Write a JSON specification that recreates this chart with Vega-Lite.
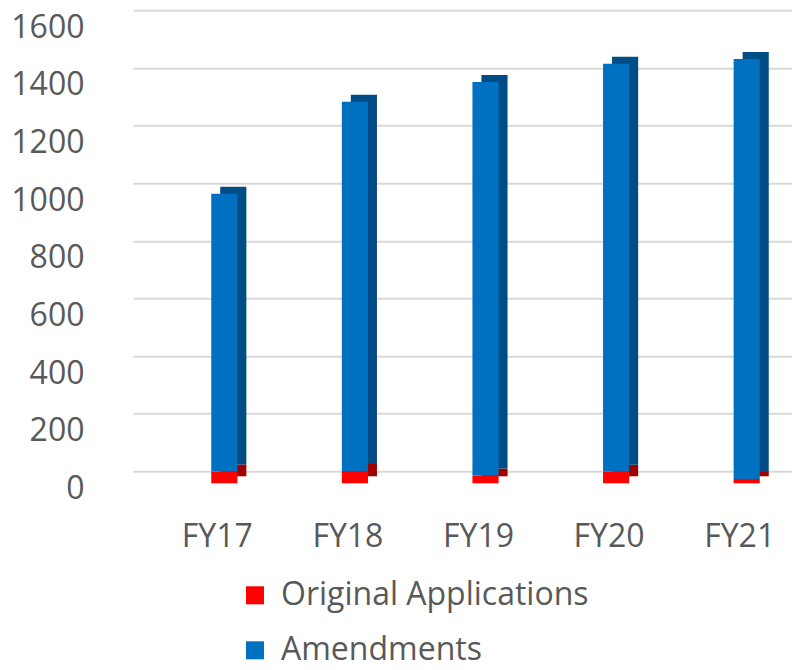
{
  "$schema": "https://vega.github.io/schema/vega-lite/v6.json",
  "width": 659,
  "height": 461,
  "autosize": {"type": "none"},
  "padding": {"left": 133, "top": 22.3, "right": 0, "bottom": 186.7},
  "background": "white",
  "config": {"view": {"stroke": null}, "font": "Open Sans"},
  "data": {
    "values": [
      {"year": "FY17", "series": "Original Applications", "value": 41},
      {"year": "FY17", "series": "Amendments", "value": 964},
      {"year": "FY18", "series": "Original Applications", "value": 43},
      {"year": "FY18", "series": "Amendments", "value": 1281},
      {"year": "FY19", "series": "Original Applications", "value": 27},
      {"year": "FY19", "series": "Amendments", "value": 1366},
      {"year": "FY20", "series": "Original Applications", "value": 40},
      {"year": "FY20", "series": "Amendments", "value": 1416},
      {"year": "FY21", "series": "Original Applications", "value": 15},
      {"year": "FY21", "series": "Amendments", "value": 1458}
    ]
  },
  "layer": [
    {
      "mark": {"type": "rule", "opacity": 0},
      "encoding": {
        "y": {
          "field": "value",
          "type": "quantitative",
          "scale": {"domain": [0, 1600], "range": [449, -12], "nice": false},
          "axis": {
            "orient": "right",
            "grid": true,
            "gridColor": "#D9D9D9",
            "gridWidth": 2,
            "labels": false,
            "ticks": false,
            "domain": false,
            "title": null,
            "values": [0, 200, 400, 600, 800, 1000, 1200, 1400, 1600]
          }
        }
      }
    },
    {
      "layer": [
        {
          "mark": {"type": "bar", "xOffset": 9, "yOffset": -7},
          "encoding": {
            "x": {
              "field": "year",
              "type": "nominal",
              "scale": {"range": [26, 679], "paddingInner": 0.8, "paddingOuter": 0.4},
              "axis": {
                "title": null,
                "domain": false,
                "ticks": false,
                "labelAngle": 0,
                "labelFontSize": 32,
                "labelColor": "#595959",
                "labelPadding": 38,
                "labelOffset": -7
              }
            },
            "y": {
              "field": "value",
              "type": "quantitative",
              "stack": "zero",
              "scale": {"domain": [0, 1600], "nice": false},
              "axis": {
                "title": null,
                "grid": false,
                "domain": false,
                "ticks": false,
                "tickSize": 0,
                "format": "d",
                "labelFontSize": 32,
                "labelColor": "#595959",
                "labelPadding": 49,
                "labelOffset": 5,
                "values": [0, 200, 400, 600, 800, 1000, 1200, 1400, 1600]
              }
            },
            "color": {
              "field": "series",
              "type": "nominal",
              "scale": {"domain": ["Original Applications", "Amendments"], "range": ["#A00000", "#004C85"]},
              "legend": null
            },
            "order": {"field": "series", "sort": "descending"}
          }
        },
        {
          "mark": {"type": "bar"},
          "encoding": {
            "x": {
              "field": "year",
              "type": "nominal",
              "scale": {"range": [26, 679], "paddingInner": 0.8, "paddingOuter": 0.4},
              "axis": {
                "title": null,
                "domain": false,
                "ticks": false,
                "labelAngle": 0,
                "labelFontSize": 32,
                "labelColor": "#595959",
                "labelPadding": 38,
                "labelOffset": -7
              }
            },
            "y": {
              "field": "value",
              "type": "quantitative",
              "stack": "zero",
              "scale": {"domain": [0, 1600], "nice": false},
              "axis": {
                "title": null,
                "grid": false,
                "domain": false,
                "ticks": false,
                "tickSize": 0,
                "format": "d",
                "labelFontSize": 32,
                "labelColor": "#595959",
                "labelPadding": 49,
                "labelOffset": 5,
                "values": [0, 200, 400, 600, 800, 1000, 1200, 1400, 1600]
              }
            },
            "color": {
              "field": "series",
              "type": "nominal",
              "scale": {"domain": ["Original Applications", "Amendments"], "range": ["#FF0000", "#0070C0"]},
              "legend": {
                "orient": "none",
                "legendX": 106,
                "legendY": 557,
                "direction": "vertical",
                "title": null,
                "padding": 0,
                "symbolType": "square",
                "symbolSize": 324,
                "symbolStrokeWidth": 0,
                "symbolOpacity": 1,
                "labelFontSize": 32,
                "labelColor": "#595959",
                "labelOffset": 10,
                "rowPadding": 23,
                "labelLimit": 500
              }
            },
            "order": {"field": "series", "sort": "descending"}
          }
        }
      ],
      "resolve": {"scale": {"color": "independent"}}
    }
  ],
  "resolve": {"scale": {"y": "independent"}}
}
